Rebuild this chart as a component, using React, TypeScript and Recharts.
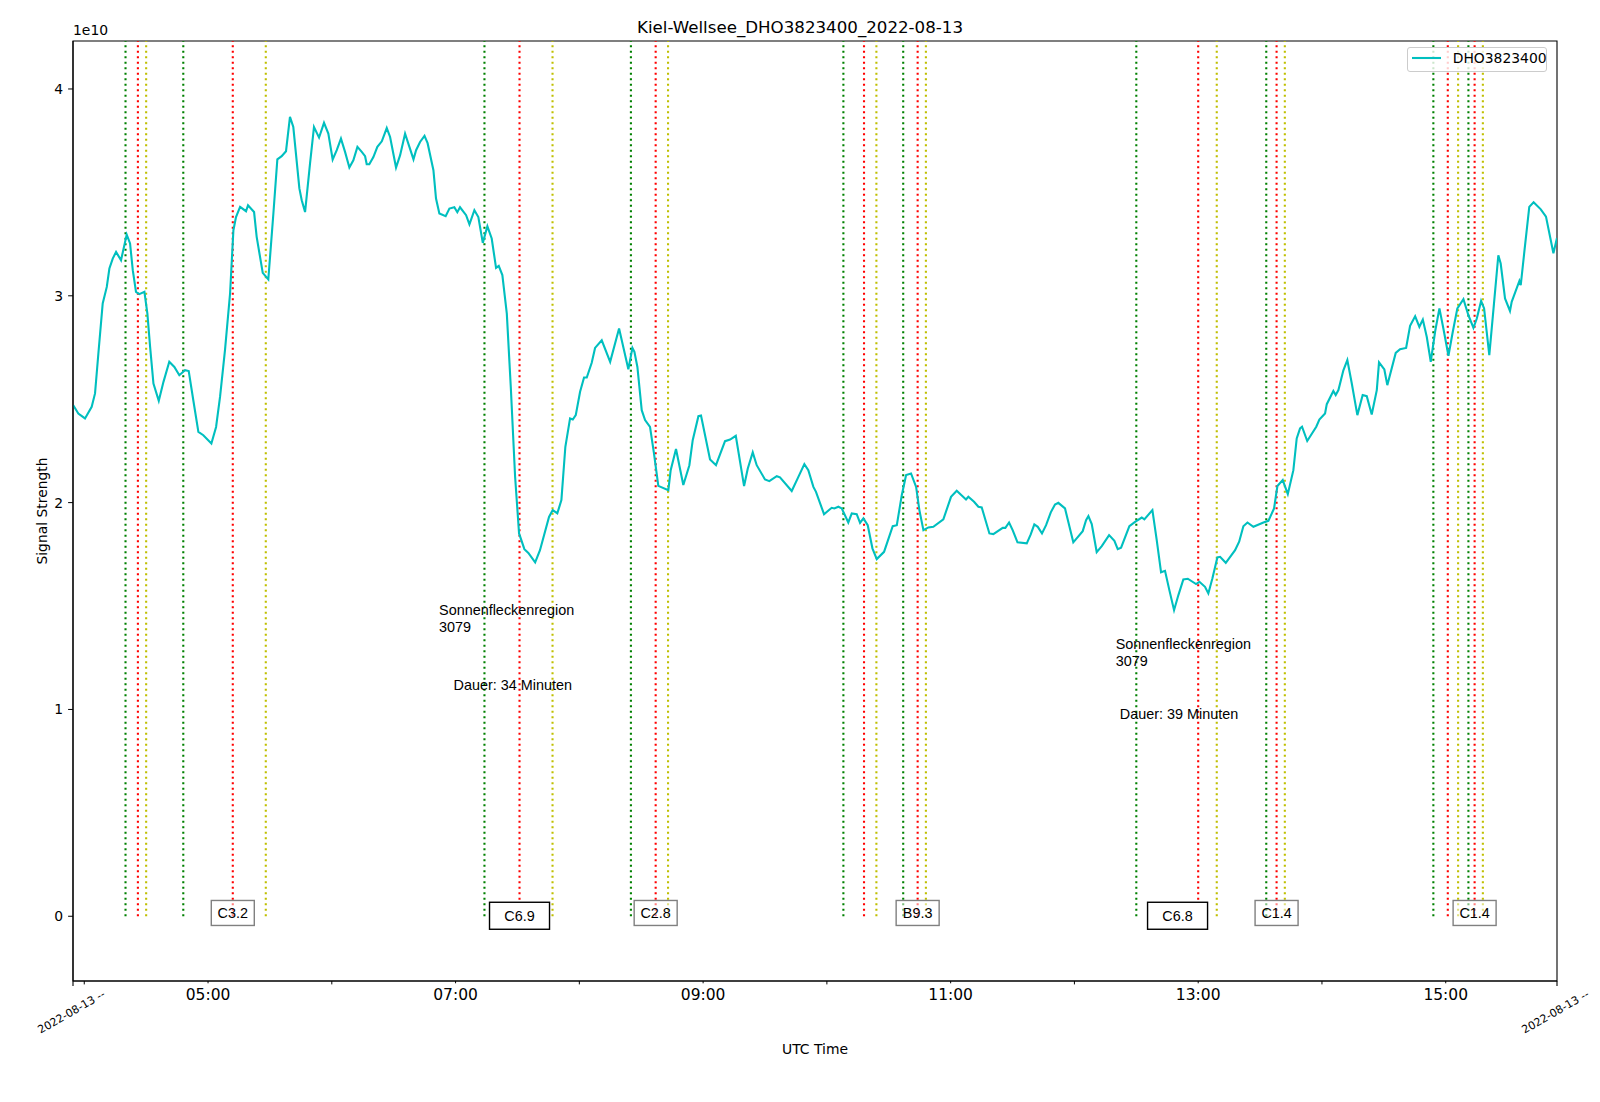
import { LineChart, Line, XAxis, YAxis, ReferenceLine, ReferenceDot, ReferenceArea, Legend } from "recharts";

// measurement times (decimal hours UTC) and signal strength (units of 1e10)
const sampleHours = [
  3.911, 3.952, 4.006, 4.06, 4.087, 4.114, 4.149, 4.182, 4.203, 4.23, 4.257, 4.297, 4.343, 4.37, 4.392, 4.418,
  4.445, 4.486, 4.51, 4.532, 4.559, 4.602, 4.64, 4.687, 4.728, 4.768, 4.814, 4.844, 4.881, 4.922, 4.962, 5.027,
  5.065, 5.097, 5.137, 5.178, 5.205, 5.226, 5.259, 5.307, 5.323, 5.372, 5.393, 5.442, 5.487, 5.528, 5.56, 5.595,
  5.63, 5.662, 5.689, 5.738, 5.757, 5.784, 5.824, 5.856, 5.897, 5.937, 5.972, 6.007, 6.04, 6.074, 6.107, 6.142,
  6.174, 6.207, 6.242, 6.269, 6.282, 6.303, 6.336, 6.368, 6.404, 6.444, 6.471, 6.519, 6.552, 6.592, 6.627, 6.66,
  6.681, 6.713, 6.749, 6.774, 6.821, 6.842, 6.869, 6.92, 6.95, 6.99, 7.014, 7.036, 7.085, 7.112, 7.152, 7.184,
  7.22, 7.257, 7.292, 7.327, 7.349, 7.378, 7.414, 7.446, 7.481, 7.513, 7.556, 7.588, 7.643, 7.682, 7.755, 7.785,
  7.822, 7.855, 7.887, 7.925, 7.947, 7.971, 8.006, 8.038, 8.06, 8.1, 8.127, 8.181, 8.249, 8.321, 8.396, 8.429,
  8.445, 8.469, 8.504, 8.531, 8.571, 8.603, 8.638, 8.719, 8.738, 8.781, 8.84, 8.889, 8.916, 8.962, 8.983, 9.056,
  9.104, 9.177, 9.218, 9.264, 9.331, 9.361, 9.401, 9.433, 9.5, 9.535, 9.595, 9.621, 9.716, 9.764, 9.818, 9.85,
  9.891, 9.912, 9.977, 10.039, 10.06, 10.093, 10.12, 10.173, 10.201, 10.241, 10.268, 10.295, 10.33, 10.368, 10.403, 10.462,
  10.532, 10.565, 10.605, 10.64, 10.68, 10.721, 10.747, 10.78, 10.82, 10.86, 10.941, 11.003, 11.049, 11.124, 11.143, 11.189,
  11.224, 11.251, 11.313, 11.345, 11.421, 11.442, 11.472, 11.501, 11.54, 11.615, 11.647, 11.676, 11.704, 11.738, 11.771, 11.809,
  11.843, 11.87, 11.924, 11.991, 12.067, 12.094, 12.113, 12.14, 12.18, 12.221, 12.28, 12.323, 12.35, 12.377, 12.444, 12.49,
  12.544, 12.565, 12.63, 12.665, 12.7, 12.732, 12.767, 12.805, 12.84, 12.88, 12.916, 12.983, 13.01, 13.055, 13.082, 13.115,
  13.155, 13.177, 13.223, 13.298, 13.331, 13.365, 13.398, 13.446, 13.527, 13.567, 13.613, 13.64, 13.683, 13.724, 13.769, 13.796,
  13.823, 13.839, 13.881, 13.954, 13.979, 14.025, 14.039, 14.092, 14.111, 14.133, 14.173, 14.205, 14.241, 14.286, 14.329, 14.362,
  14.402, 14.443, 14.461, 14.504, 14.528, 14.596, 14.631, 14.68, 14.712, 14.753, 14.787, 14.815, 14.847, 14.879, 14.914, 14.949,
  14.981, 15.022, 15.057, 15.094, 15.143, 15.183, 15.224, 15.251, 15.286, 15.31, 15.352, 15.39, 15.425, 15.444, 15.479, 15.519,
  15.533, 15.595, 15.606, 15.635, 15.675, 15.71, 15.768, 15.81, 15.87, 15.899,
];

const signal = [
  2.471, 2.431, 2.407, 2.463, 2.528, 2.721, 2.963, 3.043, 3.132, 3.18, 3.212, 3.172, 3.296, 3.253, 3.124, 3.019,
  3.008, 3.019, 2.914, 2.753, 2.576, 2.492, 2.584, 2.681, 2.656, 2.616, 2.64, 2.636, 2.495, 2.342, 2.326, 2.286,
  2.366, 2.511, 2.737, 3.011, 3.317, 3.381, 3.43, 3.409, 3.438, 3.405, 3.285, 3.111, 3.079, 3.398, 3.66, 3.675,
  3.699, 3.865, 3.816, 3.519, 3.462, 3.405, 3.639, 3.816, 3.765, 3.836, 3.784, 3.659, 3.704, 3.76, 3.696, 3.62,
  3.655, 3.72, 3.696, 3.675, 3.636, 3.636, 3.671, 3.72, 3.747, 3.811, 3.768, 3.62, 3.68, 3.784, 3.72, 3.66,
  3.704, 3.744, 3.773, 3.738, 3.607, 3.47, 3.398, 3.385, 3.422, 3.428, 3.404, 3.428, 3.39, 3.345, 3.414, 3.381,
  3.256, 3.336, 3.277, 3.135, 3.145, 3.1, 2.914, 2.56, 2.125, 1.851, 1.775, 1.757, 1.711, 1.77, 1.931, 1.964,
  1.948, 2.012, 2.27, 2.407, 2.402, 2.423, 2.536, 2.605, 2.605, 2.676, 2.748, 2.785, 2.681, 2.842, 2.645, 2.748,
  2.729, 2.656, 2.447, 2.399, 2.366, 2.238, 2.081, 2.06, 2.157, 2.259, 2.085, 2.181, 2.302, 2.418, 2.421, 2.209,
  2.181, 2.297, 2.305, 2.323, 2.08, 2.165, 2.243, 2.181, 2.112, 2.104, 2.128, 2.122, 2.056, 2.117, 2.186, 2.157,
  2.076, 2.052, 1.944, 1.975, 1.972, 1.98, 1.972, 1.904, 1.948, 1.944, 1.902, 1.924, 1.891, 1.779, 1.727, 1.762,
  1.886, 1.891, 2.036, 2.133, 2.141, 2.076, 1.965, 1.867, 1.88, 1.883, 1.919, 2.028, 2.057, 2.015, 2.028, 2.004,
  1.98, 1.977, 1.851, 1.848, 1.878, 1.878, 1.904, 1.867, 1.808, 1.803, 1.846, 1.895, 1.883, 1.851, 1.891, 1.953,
  1.991, 1.999, 1.972, 1.808, 1.862, 1.915, 1.935, 1.896, 1.761, 1.79, 1.843, 1.815, 1.775, 1.782, 1.886, 1.907,
  1.928, 1.919, 1.964, 1.819, 1.663, 1.67, 1.577, 1.48, 1.553, 1.629, 1.632, 1.606, 1.617, 1.593, 1.561, 1.634,
  1.735, 1.738, 1.709, 1.77, 1.811, 1.886, 1.904, 1.883, 1.904, 1.912, 1.972, 2.08, 2.109, 2.041, 2.157, 2.31,
  2.359, 2.367, 2.298, 2.367, 2.402, 2.431, 2.476, 2.54, 2.52, 2.544, 2.64, 2.689, 2.576, 2.423, 2.52, 2.515,
  2.426, 2.544, 2.678, 2.644, 2.568, 2.724, 2.742, 2.748, 2.855, 2.901, 2.85, 2.885, 2.801, 2.681, 2.826, 2.939,
  2.842, 2.71, 2.826, 2.939, 2.984, 2.906, 2.845, 2.89, 2.975, 2.939, 2.713, 2.963, 3.196, 3.156, 2.987, 2.927,
  2.971, 3.072, 3.051, 3.212, 3.43, 3.452, 3.418, 3.383, 3.206, 3.28,
];

// solar flare events: start / peak / end (UTC)
const flareStart = ["04:20", "04:48", "07:14", "08:25", "10:08", "10:37", "12:30", "13:33", "14:54", "15:11"];
const flarePeak = ["04:26", "05:12", "07:31", "08:37", "10:18", "10:44", "13:00", "13:38", "15:01", "15:14"];
const flareEnd = ["04:30", "05:28", "07:47", "08:43", "10:24", "10:48", "13:09", "13:42", "15:06", "15:18"];

// flare class labels
const labelClass = ["C3.2", "C6.9", "C2.8", "B9.3", "C6.8", "C1.4", "C1.4"];
const labelTime = ["05:12", "07:31", "08:37", "10:44", "12:50", "13:38", "15:14"];
const labelMajor = [false, true, false, false, true, false, false];

// notes for the long events
const noteRegion = ["3079", "3079"];
const noteTime = ["06:52", "12:20"];
const noteLevel = [1.456, 1.292];
const dauerMinutes = [34, 39];
const dauerTime = ["06:59", "12:22"];
const dauerLevel = [1.094, 0.952];

const hourTicks = [4, 5, 6, 7, 8, 9, 10, 11, 12, 13, 14, 15];
const yTicks = [0, 1, 2, 3, 4];

const station = "DHO3823400";
const day = "2022-08-13";

const X_MIN = 3.909;
const X_MAX = 15.899;
const Y_MIN = -0.313;
const Y_MAX = 4.232;

const toHours = (s: string) => {
  const [h, m] = s.split(":").map(Number);
  return h + m / 60;
};

const series = sampleHours.map((t, i) => ({ t, signal: signal[i] }));

function TimeTick(props: any) {
  const { x, y, payload } = props;
  const v = payload.value;
  if (v === X_MIN || v === X_MAX) {
    const cx = x - 1.5;
    const cy = y + 31;
    return (
      <g>
        <line x1={x} y1={y} x2={x} y2={y + 4.9} stroke="#000" strokeWidth={1.1} />
        <text x={cx} y={cy} transform={`rotate(-30 ${cx} ${cy})`} textAnchor="middle" dominantBaseline="central" fontSize={11} fill="#000">
          {day} --
        </text>
      </g>
    );
  }
  if (v % 2 === 0) {
    return <line x1={x} y1={y} x2={x} y2={y + 3.4} stroke="#000" strokeWidth={1} />;
  }
  return (
    <g>
      <line x1={x} y1={y} x2={x} y2={y + 2.3} stroke="#000" strokeWidth={1} />
      <text x={x} y={y + 18.6} textAnchor="middle" fontSize={15.5} fill="#000">
        {String(v).padStart(2, "0")}:00
      </text>
    </g>
  );
}

function ClassBox({ cx, cy, text, major }: { cx: number; cy: number; text: string; major: boolean }) {
  const w = major ? 60 : 43;
  const h = major ? 27 : 25;
  const mid = cy + (major ? -0.5 : -3.3);
  return (
    <g>
      <rect
        x={cx - w / 2}
        y={mid - h / 2}
        width={w}
        height={h}
        fill="#fff"
        fillOpacity={major ? 1 : 0.5}
        stroke={major ? "#000" : "#808080"}
        strokeWidth={1.4}
      />
      <text x={cx} y={mid + 5} textAnchor="middle" fontSize={14.4} fontFamily="Liberation Sans, Arial" fill="#000">
        {text}
      </text>
    </g>
  );
}

function LegendBox({ payload }: any) {
  const item = payload && payload[0];
  if (!item) return null;
  return (
    <div
      style={{
        position: "relative",
        width: 140,
        height: 25,
        boxSizing: "border-box",
        border: "1px solid #cccccc",
        borderRadius: 3,
        background: "rgba(255,255,255,0.8)",
        fontFamily: "DejaVu Sans",
        fontSize: 13.9,
      }}
    >
      <svg width={32} height={4} style={{ position: "absolute", left: 3.7, top: 8 }}>
        <line x1={0} y1={2} x2={29} y2={2} stroke={item.color} strokeWidth={2.1} />
      </svg>
      <span style={{ position: "absolute", left: 44.7, top: 4.2, lineHeight: "1", whiteSpace: "nowrap" }}>{item.value}</span>
    </div>
  );
}

export default function App() {
  return (
    <div style={{ position: "absolute", left: 0, top: 0, width: 1600, height: 1102, background: "#fff" }}>
      <div
        style={{
          position: "absolute",
          left: 0,
          width: 1600,
          top: 19.9,
          textAlign: "center",
          fontFamily: "DejaVu Sans",
          fontSize: 16.67,
          lineHeight: "1",
          whiteSpace: "nowrap",
        }}
      >
        Kiel-Wellsee_{station}_{day}
      </div>
      <div style={{ position: "absolute", left: 73, top: 24, fontFamily: "DejaVu Sans", fontSize: 13.9, lineHeight: "1" }}>1e10</div>
      <LineChart
        width={1600}
        height={1102}
        data={series}
        margin={{ top: 41, right: 43, bottom: 81, left: 13 }}
        style={{ fontFamily: "DejaVu Sans" }}
      >
        <XAxis
          type="number"
          dataKey="t"
          domain={[X_MIN, X_MAX]}
          allowDataOverflow
          ticks={[X_MIN, ...hourTicks, X_MAX]}
          interval={0}
          tick={(p: any) => <TimeTick {...p} />}
          tickLine={false}
          tickSize={0}
          tickMargin={0}
          height={40}
          axisLine={{ stroke: "#000", strokeWidth: 1.1 }}
          label={{
            content: () => (
              <text x={815} y={1054} textAnchor="middle" fontSize={13.9} fill="#000">
                UTC Time
              </text>
            ),
          }}
        />
        <YAxis
          type="number"
          domain={[Y_MIN, Y_MAX]}
          allowDataOverflow
          ticks={yTicks}
          interval={0}
          width={60}
          stroke="#000"
          tickSize={4.9}
          tickMargin={4.9}
          tick={{ fontSize: 13.9, fill: "#000" }}
          axisLine={{ stroke: "#000", strokeWidth: 1.1 }}
          label={{
            content: () => (
              <text x={47} y={511} transform="rotate(-90 47 511)" textAnchor="middle" fontSize={13.9} fill="#000">
                Signal Strength
              </text>
            ),
          }}
        />
        <ReferenceArea x1={X_MIN} x2={X_MAX} y1={Y_MIN} y2={Y_MAX} fill="none" stroke="#000" strokeWidth={1.1} />
        {flareStart.map((s, i) => (
          <ReferenceLine
            key={"s" + i}
            segment={[{ x: toHours(s), y: 0 }, { x: toHours(s), y: Y_MAX }]}
            stroke="#008000"
            strokeWidth={2.1}
            strokeDasharray="2.1 3.4"
          />
        ))}
        {flarePeak.map((s, i) => (
          <ReferenceLine
            key={"p" + i}
            segment={[{ x: toHours(s), y: 0 }, { x: toHours(s), y: Y_MAX }]}
            stroke="#ff0000"
            strokeWidth={2.1}
            strokeDasharray="2.1 3.4"
          />
        ))}
        {flareEnd.map((s, i) => (
          <ReferenceLine
            key={"e" + i}
            segment={[{ x: toHours(s), y: 0 }, { x: toHours(s), y: Y_MAX }]}
            stroke="#bfbf00"
            strokeWidth={2.1}
            strokeDasharray="2.1 3.4"
          />
        ))}
        <Line
          type="linear"
          dataKey="signal"
          name={station}
          stroke="#00bfbf"
          strokeWidth={2.1}
          dot={false}
          activeDot={false}
          isAnimationActive={false}
        />
        {labelClass.map((c, i) => (
          <ReferenceDot
            key={"c" + i}
            x={toHours(labelTime[i])}
            y={0}
            r={1}
            shape={(p: any) => <ClassBox cx={p.cx} cy={p.cy} text={c} major={labelMajor[i]} />}
          />
        ))}
        {noteRegion.map((r, i) => (
          <ReferenceDot
            key={"n" + i}
            x={toHours(noteTime[i])}
            y={noteLevel[i]}
            r={1}
            shape={(p: any) => (
              <text x={p.cx} y={p.cy} fontSize={14.4} fontFamily="Liberation Sans, Arial" fill="#000">
                <tspan x={p.cx}>Sonnenfleckenregion</tspan>
                <tspan x={p.cx} dy={16.7}>
                  {r}
                </tspan>
              </text>
            )}
          />
        ))}
        {dauerMinutes.map((d, i) => (
          <ReferenceDot
            key={"d" + i}
            x={toHours(dauerTime[i])}
            y={dauerLevel[i]}
            r={1}
            shape={(p: any) => (
              <text x={p.cx} y={p.cy} fontSize={14.4} fontFamily="Liberation Sans, Arial" fill="#000">
                Dauer: {d} Minuten
              </text>
            )}
          />
        ))}
        <Legend
          layout="horizontal"
          verticalAlign="middle"
          align="center"
          content={(p: any) => <LegendBox {...p} />}
          wrapperStyle={{ left: 1407, top: 47, width: 140, height: 25 }}
        />
      </LineChart>
    </div>
  );
}
